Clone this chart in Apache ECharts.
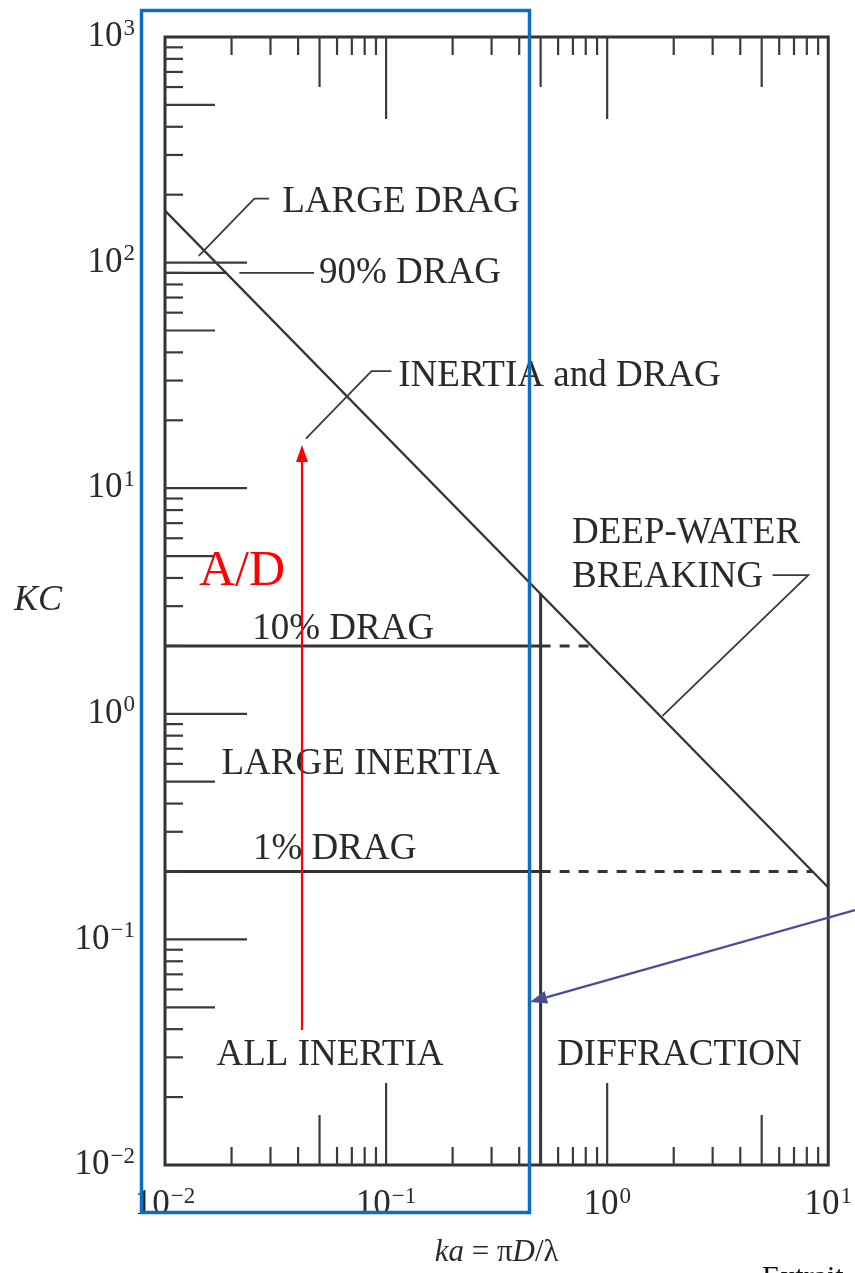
<!DOCTYPE html>
<html>
<head>
<meta charset="utf-8">
<script src="https://cdn.jsdelivr.net/npm/echarts@6/dist/echarts.min.js"></script>
<style>
  html, body { margin: 0; padding: 0; background: #fff; }
  #chart { width: 855px; height: 1273px; }
</style>
</head>
<body>
<div id="chart"></div>
<script>
// Wave-force regimes on a vertical cylinder: KC number against ka = πD/λ

// axis extents and tick layout (log-log)
const kaRange = [0.01, 10];
const kcRange = [0.01, 1000];
const xDecadeExps = [-2, -1, 0];
const yDecadeExps = [-2, -1, 0, 1, 2];
const tickMantissas = [2, 3, 4, 5, 6, 7, 8, 9];

// deep-water breaking limit
const breakingKa = [0.01, 10];
const breakingKC = [170, 0.17];

// constant drag-fraction lines
const dragNames = ['90% DRAG', '10% DRAG', '1% DRAG'];
const dragKC = [90, 2, 0.2];
const dragSolidEndKa = [0.019, 0.5, 0.5];
const dragDashEndKa = [null, 0.85, 8.5];

// diffraction boundary
const diffractionKa = 0.5;
const diffractionKC = [0.01, 3.4];

// region names, anchored at their left edge (ka, KC)
const regionLabels = [
  { text: 'LARGE DRAG', at: [0.0339, 186] },
  { text: '90% DRAG', at: [0.0497, 90] },
  { text: 'INERTIA and DRAG', at: [0.1135, 31.3] },
  { text: 'DEEP-WATER', at: [0.693, 6.32] },
  { text: 'BREAKING', at: [0.693, 4.03] },
  { text: '10% DRAG', at: [0.0248, 2.38] },
  { text: 'LARGE INERTIA', at: [0.018, 0.595] },
  { text: '1% DRAG', at: [0.025, 0.25] },
  { text: 'ALL INERTIA', at: [0.0171, 0.0307] },
  { text: 'DIFFRACTION', at: [0.594, 0.0307] }
];

// leader lines from the names to the curves
const leaders = [
  [[0.01422, 107], [0.02536, 192], [0.0296, 192]],
  [[0.0217, 90], [0.0472, 90]],
  [[0.0434, 16.6], [0.0859, 33], [0.1057, 33]],
  [[5.6, 4.12], [8.12, 4.12], [1.78, 0.98]]
];

const SERIF = 'Liberation Serif';
const INK = '#333333';
const TEXT = '#2a2a2a';

// tick marks: [ka, KC, side (0 bottom, 1 top, 2 left), length]
const LONG = 82, MID = 50, SHORT = 18;
const ticks = [];
xDecadeExps.forEach(e => {
  const base = Math.pow(10, e);
  if (e > xDecadeExps[0]) {
    ticks.push([base, kcRange[0], 0, LONG]);
    ticks.push([base, kcRange[1], 1, LONG]);
  }
  tickMantissas.forEach(m => {
    const len = m === 5 ? MID : SHORT;
    ticks.push([m * base, kcRange[0], 0, len]);
    ticks.push([m * base, kcRange[1], 1, len]);
  });
});
yDecadeExps.forEach(e => {
  const base = Math.pow(10, e);
  if (e > yDecadeExps[0]) ticks.push([kaRange[0], base, 2, LONG]);
  tickMantissas.forEach(m => {
    ticks.push([kaRange[0], m * base, 2, m === 5 ? MID : SHORT]);
  });
});

function powLabel(v) {
  const e = Math.round(Math.log10(v));
  return '{b|10}{s|' + (e < 0 ? '\u2212' + (-e) : String(e)) + '}';
}
const powRich = {
  b: { fontFamily: SERIF, fontSize: 35, color: TEXT, lineHeight: 40 },
  s: { fontFamily: SERIF, fontSize: 23, color: TEXT, verticalAlign: 'top', lineHeight: 22, padding: [0, 0, 0, 1] }
};

const series = [];

// breaking limit
series.push({
  type: 'line', name: 'DEEP-WATER BREAKING', symbol: 'none', silent: true, z: 3,
  data: breakingKa.map((k, i) => [k, breakingKC[i]]),
  lineStyle: { color: INK, width: 2.2 }
});

// drag lines: solid part up to the diffraction boundary, dashed beyond
dragKC.forEach((kc, i) => {
  series.push({
    type: 'line', name: dragNames[i], symbol: 'none', silent: true, z: 3,
    data: [[kaRange[0], kc], [dragSolidEndKa[i], kc]],
    lineStyle: { color: INK, width: i === 0 ? 2.2 : 3 }
  });
  if (dragDashEndKa[i] !== null) {
    series.push({
      type: 'line', name: dragNames[i] + ' (diffraction)', symbol: 'none', silent: true, z: 3,
      data: [[dragSolidEndKa[i], kc], [dragDashEndKa[i], kc]],
      lineStyle: { color: INK, width: 3, type: [10, 9] }
    });
  }
});

// diffraction boundary
series.push({
  type: 'line', name: 'DIFFRACTION', symbol: 'none', silent: true, z: 3,
  data: diffractionKC.map(kc => [diffractionKa, kc]),
  lineStyle: { color: INK, width: 3 }
});

// axis ticks drawn inward from the frame
series.push({
  type: 'custom', name: 'ticks', silent: true, z: 4,
  data: ticks,
  renderItem: (params, api) => {
    const p = api.coord([api.value(0), api.value(1)]);
    const side = api.value(2), len = api.value(3);
    let x2 = p[0], y2 = p[1];
    if (side === 0) y2 -= len;
    else if (side === 1) y2 += len;
    else x2 += len;
    return {
      type: 'line',
      shape: { x1: p[0], y1: p[1], x2: x2, y2: y2 },
      style: { stroke: '#3a3a3a', lineWidth: 2.2 }
    };
  }
});

// leader lines
series.push({
  type: 'custom', name: 'leaders', silent: true, z: 4,
  data: leaders.map(l => l[0]),
  renderItem: (params, api) => {
    const pts = leaders[params.dataIndex].map(p => api.coord(p));
    return {
      type: 'polyline',
      shape: { points: pts },
      style: { stroke: '#3a3a3a', lineWidth: 1.8, fill: null }
    };
  }
});

// region names
series.push({
  type: 'custom', name: 'labels', silent: true, z: 5,
  data: regionLabels.map(d => d.at),
  renderItem: (params, api) => {
    const d = regionLabels[params.dataIndex];
    const p = api.coord(d.at);
    return {
      type: 'text', x: p[0], y: p[1],
      style: {
        text: d.text, fontFamily: SERIF, fontSize: 37, fill: TEXT,
        align: 'left', verticalAlign: 'middle'
      }
    };
  }
});

// highlighted band, A/D arrow and pointer drawn on top
function arrowHead(tip, from, len, half) {
  const dx = tip[0] - from[0], dy = tip[1] - from[1];
  const L = Math.hypot(dx, dy), ux = dx / L, uy = dy / L;
  const bx = tip[0] - ux * len, by = tip[1] - uy * len;
  return [tip, [bx - uy * half, by + ux * half], [bx + uy * half, by - ux * half]];
}
const redFrom = [302, 1030], redTip = [302, 445];
const blueFrom = [855, 910], blueTip = [530, 1002];
const blueHead = arrowHead(blueTip, blueFrom, 17, 6.5);
const blueShaftEnd = [(blueHead[1][0] + blueHead[2][0]) / 2, (blueHead[1][1] + blueHead[2][1]) / 2];

const graphic = [
  {
    type: 'rect', z: 100, silent: true,
    shape: { x: 141.5, y: 10.5, width: 388, height: 1202 },
    style: { fill: 'none', stroke: '#0a6fc2', lineWidth: 3.5 }
  },
  {
    type: 'line', z: 100, silent: true,
    shape: { x1: redFrom[0], y1: redFrom[1], x2: redTip[0], y2: redTip[1] + 14 },
    style: { stroke: '#ff0000', lineWidth: 2.2 }
  },
  {
    type: 'polygon', z: 100, silent: true,
    shape: { points: arrowHead(redTip, redFrom, 17, 6) },
    style: { fill: '#ff0000' }
  },
  {
    type: 'text', z: 100, silent: true, x: 199, y: 572,
    style: { text: 'A/D', fontFamily: SERIF, fontSize: 50, fill: '#ff0000', verticalAlign: 'middle' }
  },
  {
    type: 'line', z: 100, silent: true,
    shape: { x1: blueFrom[0], y1: blueFrom[1], x2: blueShaftEnd[0], y2: blueShaftEnd[1] },
    style: { stroke: '#4a4d96', lineWidth: 2.2 }
  },
  {
    type: 'polygon', z: 100, silent: true,
    shape: { points: blueHead },
    style: { fill: '#4a4d96' }
  },
  {
    type: 'text', z: 100, silent: true, x: 762, y: 1263,
    style: { text: 'Extrait', fontFamily: SERIF, fontSize: 30, fill: '#111', verticalAlign: 'top' }
  }
];

const chart = echarts.init(document.getElementById('chart'), null, { renderer: 'canvas' });
chart.setOption({
  backgroundColor: '#ffffff',
  animation: false,
  grid: {
    left: 165, right: 22, top: 37, bottom: 106,
    show: true, borderColor: '#333', borderWidth: 3, backgroundColor: 'transparent'
  },
  xAxis: {
    type: 'log', logBase: 10, min: kaRange[0], max: kaRange[1],
    axisLine: { show: false }, axisTick: { show: false }, splitLine: { show: false },
    axisLabel: { formatter: powLabel, rich: powRich, margin: 20 },
    name: '{i|ka} = \u03c0{i|D}/\u03bb',
    nameLocation: 'middle', nameGap: 72,
    nameTextStyle: {
      fontFamily: SERIF, fontSize: 31, color: TEXT,
      rich: {
        i: { fontFamily: SERIF, fontSize: 31, fontStyle: 'italic', color: TEXT }
      }
    }
  },
  yAxis: {
    type: 'log', logBase: 10, min: kcRange[0], max: kcRange[1],
    axisLine: { show: false }, axisTick: { show: false }, splitLine: { show: false },
    axisLabel: { formatter: powLabel, rich: powRich, margin: 30 },
    name: 'KC', nameLocation: 'middle', nameRotate: 0, nameGap: 103,
    nameTextStyle: { fontFamily: SERIF, fontSize: 36, fontStyle: 'italic', color: TEXT, padding: [24, 0, 0, 0] }
  },
  graphic: graphic,
  series: series
});
</script>
</body>
</html>
